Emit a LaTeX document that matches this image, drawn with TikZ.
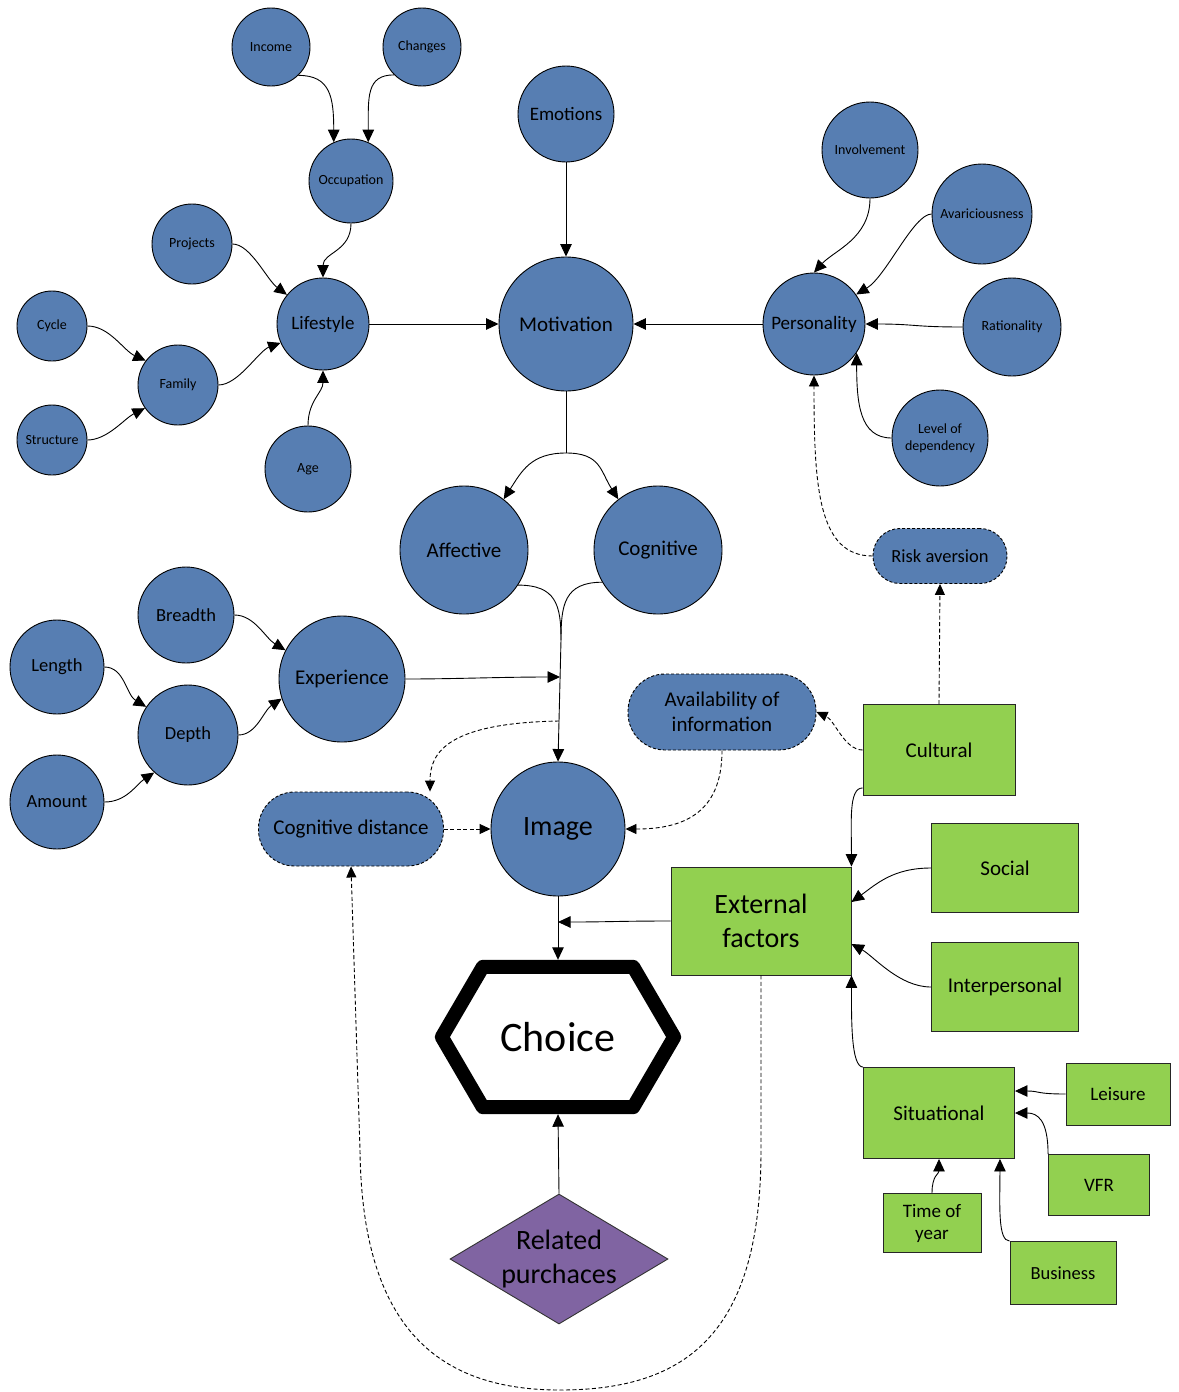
\documentclass[tikz,border=0pt]{standalone}
\usepackage{fontspec}
\setmainfont{Carlito}
\usetikzlibrary{arrows.meta,shapes.geometric,calc}
\definecolor{cblue}{RGB}{87,126,178}
\definecolor{cgreen}{RGB}{146,208,80}
\definecolor{cpurple}{RGB}{128,100,162}
\newcommand{\fsz}[2]{\fontsize{#1}{#2}\selectfont}
\tikzset{
  bc/.style={circle, draw=black, line width=0.9pt, fill=cblue, inner sep=0pt, align=center, font=\fsz{14}{17}},
  pill/.style={rectangle, draw=black, line width=0.9pt, dash pattern=on 3pt off 2pt, fill=cblue, inner sep=0pt, align=center, font=\fsz{21}{25}},
  gb/.style={rectangle, draw=black!85, line width=0.9pt, fill=cgreen, inner sep=0pt, align=center, font=\fsz{21}{25}},
  conn/.style={line width=0.9pt, draw=black},
  arr/.style={conn, -{Triangle[length=12.5pt,width=11.5pt]}},
  darr/.style={conn, -{Triangle[length=11pt,width=10pt]}, dash pattern=on 4pt off 2.5pt},
}
\begin{document}
\begin{tikzpicture}[x=1pt,y=-1pt]
\fill[white] (0,0) rectangle (1178,1392);
\useasboundingbox (0,0) rectangle (1178,1392);

% ---- blue circles
\node[bc, minimum size=78pt] (income) at (271,47) {Income};
\node[bc, minimum size=78pt] (changes) at (422,47) {Changes};
\node[bc, minimum size=84pt] (occupation) at (351,181) {Occupation};
\node[bc, minimum size=80pt] (projects) at (192,244) {Projects};
\node[bc, minimum size=96pt, font=\fsz{19}{22}] (emotions) at (566,114) {Emotions};
\node[bc, minimum size=92pt, font=\fsz{19}{22}] (lifestyle) at (323,324) {Lifestyle};
\node[bc, minimum size=70pt] (cycle) at (52,326) {Cycle};
\node[bc, minimum size=80pt] (family) at (178,385) {Family};
\node[bc, minimum size=70pt] (structure) at (52,440) {Structure};
\node[bc, minimum size=86pt] (age) at (308,469) {Age};
\node[bc, minimum size=134pt, font=\fsz{21}{25}] (motivation) at (566,324) {Motivation};
\node[bc, minimum size=102pt, font=\fsz{19}{22}] (personality) at (814,324) {Personality};
\node[bc, minimum size=96pt] (involvement) at (870,150) {Involvement};
\node[bc, minimum size=100pt] (avaric) at (982,214) {Avariciousness};
\node[bc, minimum size=98pt] (rationality) at (1012,327) {Rationality};
\node[bc, minimum size=96pt] (lod) at (940,438) {Level of\\dependency};
\node[pill, minimum width=134pt, minimum height=55pt, rounded corners=27pt, font=\fsz{18.5}{22}] (risk) at (940,556) {Risk aversion};
\node[bc, minimum size=128pt, font=\fsz{21}{25}] (affective) at (464,550) {Affective};
\node[bc, minimum size=128pt, font=\fsz{21}{25}] (cognitive) at (658,550) {Cognitive};
\node[bc, minimum size=96pt, font=\fsz{18.5}{22}] (breadth) at (186,615) {Breadth};
\node[bc, minimum size=94pt, font=\fsz{18.5}{22}] (length) at (57,667) {Length};
\node[bc, minimum size=126pt, font=\fsz{21}{25}] (experience) at (342,679) {Experience};
\node[bc, minimum size=100pt, font=\fsz{18.5}{22}] (depth) at (188,735) {Depth};
\node[bc, minimum size=94pt, font=\fsz{18.5}{22}] (amount) at (57,802) {Amount};
\node[pill, minimum width=185pt, minimum height=74pt, rounded corners=36pt] (cogdist) at (351,829) {Cognitive distance};
\node[bc, minimum size=134pt, font=\fsz{28}{32}] (image) at (558,829) {Image};
\node[pill, minimum width=188pt, minimum height=76pt, rounded corners=37pt] (avail) at (722,712) {Availability of\\information};

% ---- green boxes
\node[gb, minimum width=152pt, minimum height=91pt] (cultural) at (939,750) {Cultural};
\node[gb, minimum width=147pt, minimum height=89pt] (social) at (1005,868) {Social};
\node[gb, minimum width=180pt, minimum height=108pt, font=\fsz{28}{34}] (external) at (761,921) {External\\factors};
\node[gb, minimum width=147pt, minimum height=89pt] (interp) at (1005,987) {Interpersonal};
\node[gb, minimum width=151pt, minimum height=91pt] (situational) at (939,1113) {Situational};
\node[gb, minimum width=104pt, minimum height=62pt, font=\fsz{19}{22}] (leisure) at (1118,1094) {Leisure};
\node[gb, minimum width=101pt, minimum height=61pt, font=\fsz{19}{22}] (vfr) at (1099,1185) {VFR};
\node[gb, minimum width=98pt, minimum height=59pt, font=\fsz{19}{22}] (timeofyear) at (932,1223) {Time of\\year};
\node[gb, minimum width=106pt, minimum height=63pt, font=\fsz{18.5}{22}] (business) at (1063,1273) {Business};

% ---- choice hexagon and related purchases
\node[rectangle, minimum width=248pt, minimum height=154pt, inner sep=0pt, font=\fsz{42}{48}] (choice) at (558,1037) {Choice};
\draw[line width=14pt, line join=round]
  ($(choice.west)+(8,0)$) -- ($(choice.north west)+(49,7)$) -- ($(choice.north east)+(-49,7)$)
  -- ($(choice.east)+(-8,0)$) -- ($(choice.south east)+(-49,-7)$) -- ($(choice.south west)+(49,-7)$) -- cycle;
\node[diamond, fill=cpurple, draw=black!80, line width=0.9pt, minimum width=218pt, minimum height=130pt, inner sep=0pt, aspect=1.68, align=center, font=\fsz{28}{34}] (related) at (559,1259) {Related\\purchaces};

% ---- helper coordinates
\coordinate (split) at (566,453);
\coordinate (merge) at (561,640);
\coordinate (expin) at (560,677);
\coordinate (dsrc) at (559,721);
\coordinate (extin) at (558,922);
\coordinate (loopbot) at (560,1390);

% ---- lifestyle cluster
\draw[arr] (income.-46) .. controls +(32,0) and +(0,-45) .. (occupation.114);
\draw[arr] (changes.-135) .. controls +(-28,0) and +(0,-45) .. (occupation.66);
\draw[arr] (occupation.south) .. controls +(0,28) and +(0,-25) .. (lifestyle.north);
\draw[arr] (projects.east) .. controls +(18,0) and +(-20,-15) .. (lifestyle.141);
\draw[arr] (cycle.east) .. controls +(22,0) and +(-22,-10) .. (family.143);
\draw[arr] (structure.east) .. controls +(20,0) and +(-20,10) .. (family.-145);
\draw[arr] (family.east) .. controls +(20,0) and +(-22,8) .. (lifestyle.204);
\draw[arr] (age.north) .. controls +(0,-25) and +(0,22) .. (lifestyle.south);
\draw[arr] (lifestyle.east) -- (motivation.west);
\draw[arr] (emotions.south) -- (motivation.north);
\draw[arr] (personality.west) -- (motivation.east);

% ---- personality cluster
\draw[arr] (involvement.south) .. controls +(0,40) and +(20,-22) .. (personality.north);
\draw[arr] (avaric.west) .. controls +(-18,0) and +(30,-18) .. (personality.35);
\draw[arr] (rationality.west) .. controls +(-50,0) and +(50,0) .. (personality.east);
\draw[arr] (lod.west) .. controls +(-32,0) and +(0,50) .. (personality.-34);
\draw[darr] (risk.west) .. controls +(-55,0) and +(0,110) .. (personality.south);
\draw[darr] (cultural.north) -- (risk.south);
\draw[darr] (cultural.west) .. controls +(-18,0) and +(18,8) .. (avail.east);
\draw[darr] (avail.south) .. controls +(0,65) and +(55,0) .. (image.east);

% ---- motivation split
\draw[conn] (motivation.south) -- (split);
\draw[arr] (split) .. controls +(-35,0) and +(18,-28) .. (affective.52);
\draw[arr] (split) .. controls +(35,0) and +(-18,-28) .. (cognitive.128);
\draw[conn] (affective.-33) .. controls +(38,0) and +(0,-35) .. (merge);
\draw[conn] (cognitive.-150) .. controls +(-38,0) and +(0,-35) .. (merge);
\draw[arr] (merge) -- (image.north);

% ---- experience cluster
\draw[arr] (breadth.east) .. controls +(20,0) and +(-20,-12) .. (experience.153);
\draw[arr] (length.east) .. controls +(20,0) and +(-20,-12) .. (depth.146);
\draw[arr] (amount.east) .. controls +(22,0) and +(-18,12) .. (depth.-132);
\draw[arr] (depth.east) .. controls +(18,0) and +(-18,12) .. (experience.198);
\draw[arr] (experience.east) .. controls +(50,0) and +(-60,0) .. (expin);
\draw[darr] (dsrc) .. controls +(-110,2) and +(0,-40) .. ([xshift=79pt]cogdist.north);
\draw[darr] (cogdist.east) -- (image.west);

% ---- image / choice
\draw[arr] (image.south) -- (choice.north);
\draw[arr] (external.west) .. controls +(-50,0) and +(50,0) .. (extin);
\draw[arr] (related.north) -- (choice.south);

% ---- external factors
\draw[arr] ([yshift=8pt]cultural.south west) .. controls +(-14,0) and +(0,-45) .. (external.north east);
\draw[arr] (social.west) .. controls +(-38,0) and +(25,-18) .. ([yshift=19pt]external.east);
\draw[arr] (interp.west) .. controls +(-32,0) and +(22,12) .. ([yshift=-23pt]external.east);
\draw[arr] (situational.north west) .. controls +(-12,0) and +(0,45) .. (external.south east);
\draw[arr] (leisure.west) .. controls +(-30,0) and +(25,0) .. ([yshift=22pt]situational.east);
\draw[arr] (vfr.north west) .. controls +(0,-35) and +(22,0) .. (situational.east);
\draw[arr] (timeofyear.north) .. controls +(0,-18) and +(0,15) .. (situational.south);
\draw[arr] (business.north west) .. controls +(-12,0) and +(0,45) .. ([xshift=-15pt]situational.south east);

% ---- big dashed loop
\draw[darr] (external.south) -- (761,1150) .. controls (761,1330) and (690,1390) .. (loopbot)
  .. controls (440,1390) and (362,1330) .. (360,1150) -- (cogdist.south);
\end{tikzpicture}
\end{document}
